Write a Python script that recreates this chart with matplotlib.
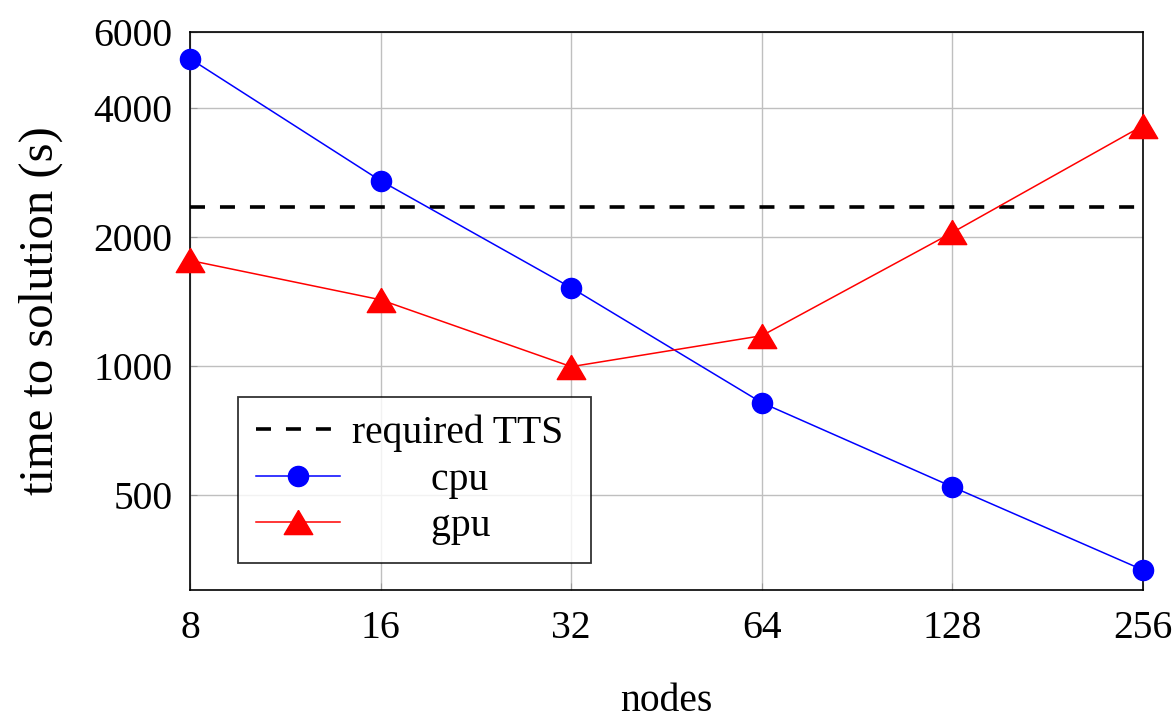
import matplotlib
matplotlib.use("Agg")
import matplotlib.pyplot as plt
from matplotlib.ticker import FixedLocator, FixedFormatter, NullLocator

nodes = [8, 16, 32, 64, 128, 256]
cpu = [5200, 2700, 1520, 820, 522, 334]
gpu = [1760, 1425, 995, 1175, 2045, 3630]
required_tts = 2350
yticks = [500, 1000, 2000, 4000, 6000]
xticklabels = [str(n) for n in nodes]
yticklabels = [str(v) for v in yticks]

plt.rcParams['font.family'] = ['Liberation Serif', 'DejaVu Serif']

fig = plt.figure(figsize=(11.76, 7.18), dpi=100)
W, H = 1176, 718
ax = fig.add_axes([190 / W, (H - 590) / H, (1143 - 190) / W, (590 - 32) / H])

ax.set_xscale('log', base=2)
ax.set_yscale('log')
ax.set_xlim(8, 256)
ax.set_ylim(300, 6000)

tri = [(0, 0.975), (-1.15, -0.975), (1.15, -0.975), (0, 0.975)]

ax.axhline(required_tts, color='black', lw=2.6, dashes=(4.15, 4.15), label='required TTS\u00a0', zorder=3)
ax.plot(nodes, cpu, color='blue', lw=1.1, marker='o', markersize=14.5,
        label='        cpu', clip_on=False, zorder=4)
ax.plot(nodes, gpu, color='red', lw=1.1, marker=tri, markersize=20.5,
        label='        gpu', clip_on=False, zorder=4)

ax.xaxis.set_major_locator(FixedLocator(nodes))
ax.xaxis.set_major_formatter(FixedFormatter(xticklabels))
ax.xaxis.set_minor_locator(NullLocator())
ax.yaxis.set_major_locator(FixedLocator(yticks))
ax.yaxis.set_major_formatter(FixedFormatter(yticklabels))
ax.yaxis.set_minor_locator(NullLocator())

ax.grid(True, color='#bfbfbf', lw=1.0)
ax.set_axisbelow(True)
ax.tick_params(direction='in', length=5, width=0.8, color='#999999',
               labelsize=28.5, labelcolor='black')
ax.tick_params(axis='x', pad=14.5)
ax.tick_params(axis='y', pad=12.5)
for s in ax.spines.values():
    s.set_linewidth(1.2)
    s.set_color('black')

ax.set_xlabel('nodes', fontsize=28.5, labelpad=26)
ax.set_ylabel('time to solution (s)', fontsize=35, labelpad=22)

leg = ax.legend(loc='upper left', bbox_to_anchor=((238 - 190) / (1143 - 190), (590 - 397) / (590 - 32)),
                fontsize=28.5, frameon=True, fancybox=False, edgecolor='black',
                handlelength=2.12, handletextpad=0.3, borderpad=0.45, labelspacing=0.24,
                borderaxespad=0)
leg.get_frame().set_linewidth(1.3)

fig.savefig('out.png', dpi=100)
